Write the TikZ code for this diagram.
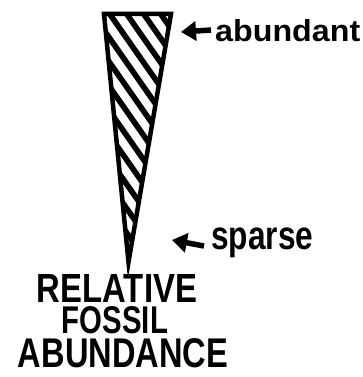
\documentclass[tikz,border=0pt]{standalone}
\usepackage{fontspec}
\setmainfont{Liberation Sans}
\usetikzlibrary{arrows.meta}
\tikzset{
  lbl/.style={inner sep=0pt, font=\bfseries},
  pointer/.style={line width=5.5pt, -{Triangle[length=15pt,width=19pt]}},
  outline/.style={line width=4.5pt, line join=miter, miter limit=30},
  hatch/.style={white, line width=8pt}
}
\begin{document}
\begin{tikzpicture}[x=1pt,y=-1pt]
\useasboundingbox (0,0) rectangle (363,377);
\coordinate (tl) at (104,14);
\coordinate (tr) at (171,14);
\coordinate (tip) at (128.5,262);
% wedge
\fill[black] (tl) -- (tr) -- (tip) -- cycle;
\begin{scope}
  \clip (tl) -- (tr) -- (tip) -- cycle;
  \foreach \k in {-18,...,4} {
    \pgfmathsetmacro{\xa}{117.5+17*\k-172}
    \pgfmathsetmacro{\xb}{117.5+17*\k+172}
    \draw[hatch] (\xa,-233) -- (\xb,259);
  }
\end{scope}
\draw[outline] (tl) -- (tr) -- (tip) -- cycle;
% labels
\node[lbl, anchor=west] (ab) at (215,31) {\resizebox{145pt}{22pt}{abundant}};
\node[lbl, anchor=west] (sp) at (211,243) {\resizebox*{102pt}{30pt}{sparse}};
\coordinate (abhead) at (181,32);
\coordinate (sphead) at (172,240);
\draw[pointer] ([xshift=-4pt,yshift=1pt]ab.west) -- (abhead);
\draw[pointer] ([xshift=-7pt,yshift=-3pt]sp.west) -- (sphead);
\node[lbl] (rel) at (117,288) {\resizebox{160pt}{28pt}{RELATIVE}};
\node[lbl] (fos) at (115,320.5) {\resizebox{106pt}{27pt}{FOSSIL}};
\node[lbl] (abu) at (123,353.5) {\resizebox{210pt}{29pt}{ABUNDANCE}};
\end{tikzpicture}
\end{document}
